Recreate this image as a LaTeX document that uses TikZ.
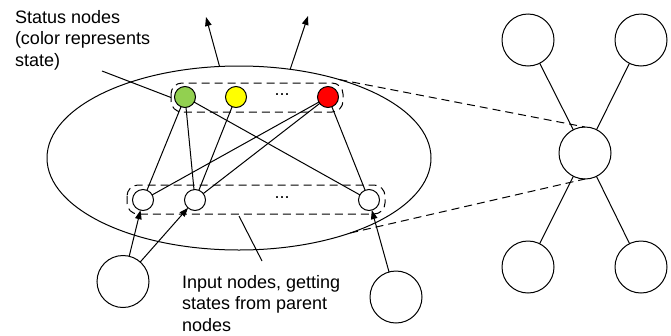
\documentclass[tikz,border=0pt]{standalone}
\usepackage{fontspec}
\setmainfont{Liberation Sans}
\usetikzlibrary{shapes.geometric,arrows.meta}
\definecolor{sgreen}{RGB}{146,208,80}
\definecolor{syellow}{RGB}{255,255,0}
\definecolor{sred}{RGB}{255,0,0}
\begin{document}
\begin{tikzpicture}[x=1pt,y=-1pt,line width=1pt,
  snode/.style={circle,draw,minimum size=21pt,inner sep=0pt,outer sep=0pt},
  inode/.style={circle,draw,fill=white,minimum size=21pt,inner sep=0pt,outer sep=0pt},
  bignode/.style={circle,draw,fill=white,minimum size=52pt,inner sep=0pt,outer sep=0pt},
  groupbox/.style={draw,dash pattern=on 8pt off 5pt,rounded corners=11pt},
  dashline/.style={dash pattern=on 8pt off 5pt},
  arr/.style={-{Triangle[length=9pt,width=6.5pt]}},
  lbl/.style={inner sep=0pt,outer sep=0pt,align=left,font=\fontsize{18}{21.5}\selectfont},
  dots/.style={inner sep=0pt,font=\fontsize{18}{21.5}\selectfont}]
\useasboundingbox (0,0) rectangle (671,335);

% big ellipse
\node[ellipse,draw,minimum width=384pt,minimum height=184pt,inner sep=0pt,outer sep=0pt] (ell) at (239,158) {};

% group boxes
\node[inner sep=0pt,outer sep=0pt,minimum width=172pt,minimum height=29pt] (sbox) at (257,97.5) {};
\node[inner sep=0pt,outer sep=0pt,minimum width=258pt,minimum height=29pt] (ibox) at (256,199.5) {};
\draw[groupbox] (sbox.north west) rectangle (sbox.south east);
\draw[groupbox] (ibox.north west) rectangle (ibox.south east);

% status nodes
\node[snode,fill=sgreen] (g) at (185,97) {};
\node[snode,fill=syellow] (y) at (236,97) {};
\node[snode,fill=sred] (r) at (328,97) {};
\node[dots] (sd) at (282,95) {...};

% input nodes
\node[inode] (i1) at (143,200) {};
\node[inode] (i2) at (195,200) {};
\node[inode] (i3) at (369,200) {};
\node[dots] (id) at (282,198) {...};

% connections status -> input
\draw (g) -- (i1);
\draw (g) -- (i2);
\draw (g) -- (i3);
\draw (y) -- (i2);
\draw (r) -- (i1);
\draw (r) -- (i2);
\draw (r) -- (i3);

% parent nodes
\node[bignode] (p1) at (123,281.5) {};
\node[bignode] (p2) at (396,297) {};
\draw[arr] (p1) -- (i1);
\draw[arr] (p1) -- (i2);
\draw[arr] (p2) -- (i3);

% output arrows
\coordinate (o1) at (206,17);
\coordinate (o2) at (308,16);
\draw[arr] (ell.102) -- (o1);
\draw[arr] (ell.60.5) -- (o2);

% labels
\node[lbl,anchor=north west] (slabel) at (15,10) {Status nodes\\(color represents\\state)};
\coordinate (sl) at (102,71);
\draw (sl) -- (sbox.west);
\node[lbl,anchor=north west] (ilabel) at (182,275) {Input nodes, getting\\states from parent\\nodes};
\coordinate (il0) at (239,216);
\coordinate (il1) at (262,261);
\draw (il0) -- (il1);

% right graph
\node[bignode] (c) at (585,153) {};
\node[bignode] (tl) at (528,40) {};
\node[bignode] (tr) at (641,40) {};
\node[bignode] (bl) at (528,267) {};
\node[bignode] (br) at (641,267) {};
\draw (c) -- (tl);
\draw (c) -- (tr);
\draw (c) -- (bl);
\draw (c) -- (br);
\draw[dashline] (ell.38.5) -- (c.north);
\draw[dashline] (ell.-34.5) -- (c.south);
\end{tikzpicture}
\end{document}
